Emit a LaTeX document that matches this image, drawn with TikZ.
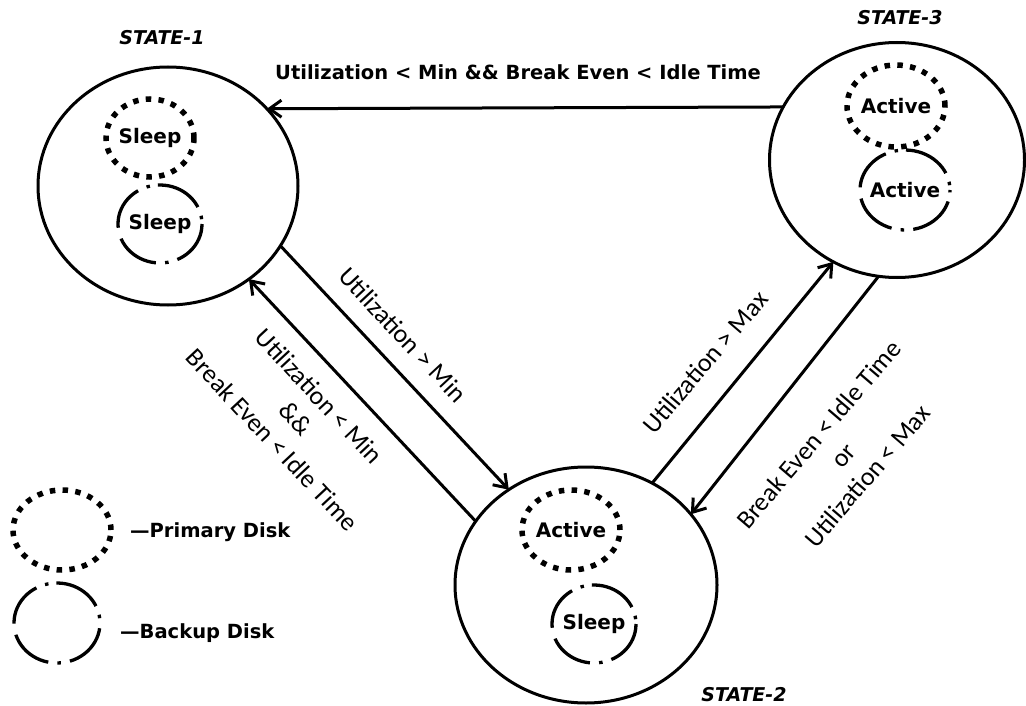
\documentclass[tikz,border=0pt]{standalone}
\usepackage{fontspec}
\setmainfont{DejaVu Sans}
\newfontfamily\carlito{Carlito}
\usetikzlibrary{shapes.geometric,arrows.meta}
\begin{document}
\begin{tikzpicture}[x=1pt,y=-1pt,
  bigstate/.style={ellipse,draw,line width=3pt,inner sep=0pt,outer sep=0pt},
  primarydisk/.style={ellipse,draw,line width=5.5pt,dash pattern=on 5.5pt off 7.3pt,inner sep=0pt,outer sep=0pt},
  backupdisk/.style={ellipse,draw,line width=3.3pt,
    dash pattern=on 3.5pt off 9.2pt on 48.3pt off 8pt on 3.5pt off 9.2pt on 44.5pt off 11.3pt on 44.5pt off 9.2pt on 3.5pt off 9.2pt on 46.8pt off 9.3pt,
    dash phase=255.2pt,inner sep=0pt,outer sep=0pt},
  disktext/.style={font=\bfseries\fontsize{20}{24}\selectfont,inner sep=0pt},
  statename/.style={font=\bfseries\itshape\fontsize{19}{23}\selectfont,inner sep=0pt},
  legendtext/.style={font=\bfseries\fontsize{19.5}{23}\selectfont,inner sep=0pt,anchor=west},
  cond/.style={font=\carlito\fontsize{26}{32}\selectfont,align=center,inner sep=0pt},
  toplabel/.style={font=\bfseries\fontsize{19.5}{23}\selectfont,inner sep=0pt},
  trans/.style={line width=3pt,-{Straight Barb[length=12pt,width=17pt]}}
]
\useasboundingbox[fill=white] (0,0) rectangle (1026,706);

% states
\node[bigstate,minimum width=260pt,minimum height=238pt] (s1) at (168,186) {};
\node[bigstate,minimum width=262pt,minimum height=236pt] (s2) at (586,585) {};
\node[bigstate,minimum width=255pt,minimum height=235pt] (s3) at (897,160) {};

\node[statename] (n1) at (162,38) {STATE-1};
\node[statename] (n2) at (744,695) {STATE-2};
\node[statename] (n3) at (900,18) {STATE-3};

% disks
\node[primarydisk,minimum width=88pt,minimum height=78pt,label={[disktext]center:Sleep}] (s1p) at (150,138) {};
\node[backupdisk,minimum width=84pt,minimum height=78pt,label={[disktext]center:Sleep}] (s1b) at (160,224) {};
\node[primarydisk,minimum width=98pt,minimum height=82pt,label={[disktext]center:Active}] (s3p) at (896,106) {};
\node[backupdisk,minimum width=90pt,minimum height=80pt,label={[disktext]center:Active}] (s3b) at (905,190) {};
\node[primarydisk,minimum width=98pt,minimum height=80pt,label={[disktext]center:Active}] (s2p) at (571,530) {};
\node[backupdisk,minimum width=84pt,minimum height=78pt,label={[disktext]center:Sleep}] (s2b) at (594,624) {};

% legend
\node[primarydisk,minimum width=98pt,minimum height=80pt] (lp) at (62,530) {};
\node[backupdisk,minimum width=86pt,minimum height=80pt] (lb) at (57,623) {};
\node[legendtext] (lpt) at (130,532) {—Primary Disk};
\node[legendtext] (lbt) at (120,633) {—Backup Disk};

% transitions
\draw[trans] (s3.155.5) -- (s1.38.5);
\draw[trans] (s1.-28.5) -- (s2.129.4);
\draw[trans] (s2.150.4) -- (s1.-49);
\draw[trans] (s2.57.4) -- (s3.238.6);
\draw[trans] (s3.261.9) -- (s2.34.5);

% labels
\node[toplabel] (t31) at (518,72) {Utilization < Min \&\& Break Even < Idle Time};
\node[cond,rotate=-47] (t12) at (403,335) {Utilization > Min};
\node[cond,rotate=-47] (t21) at (296,418) {Utilization < Min\\\&\&\\Break Even < Idle Time};
\node[cond,rotate=49.5] (t23) at (705,362) {Utilization > Max};
\node[cond,rotate=49.5] (t32) at (843,455) {Break Even < Idle Time\\or\\Utilization < Max};
\end{tikzpicture}
\end{document}
